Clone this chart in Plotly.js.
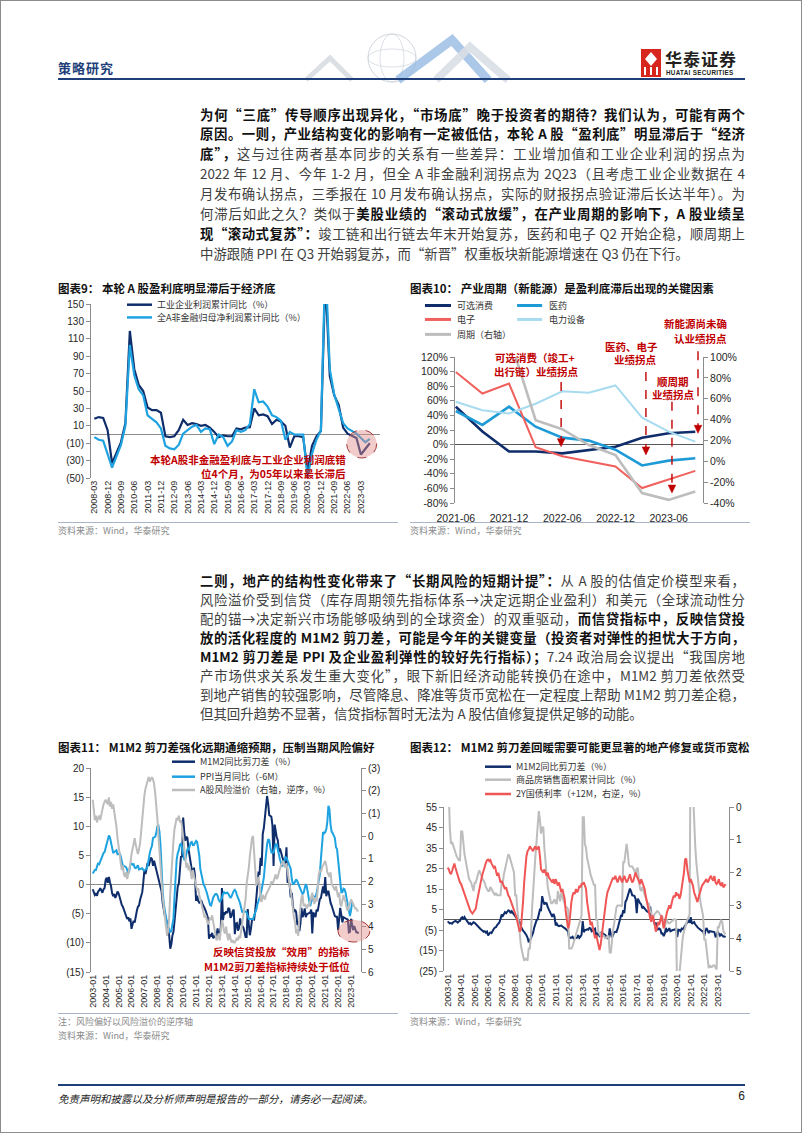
<!DOCTYPE html>
<html lang="zh-CN"><head><meta charset="utf-8">
<script src="https://cdn.plot.ly/plotly-3.0.1.min.js"></script>
<style>
body{margin:0;background:#fff;}
#page{position:relative;width:802px;height:1133px;overflow:hidden;font-family:"Noto Sans CJK SC","Liberation Sans",sans-serif;background:#fff;}
#frame{position:absolute;left:0;top:0;width:800px;height:1131px;border:1px solid #8c8c8c;}
.ln{position:absolute;left:200px;width:545px;height:20px;line-height:20px;font-size:13.4px;text-align:justify;text-align-last:justify;color:#404040;}
.ln b{color:#111;font-weight:700;}
.ln.last{text-align-last:left;}
.ttl{position:absolute;font-size:11.5px;font-weight:700;color:#111;white-space:nowrap;line-height:14px;}
.src{position:absolute;font-size:9px;color:#8a8a8a;white-space:nowrap;line-height:12px;}
.sep{position:absolute;height:1px;background:#a9b5c6;}
.chart{position:absolute;}
</style></head>
<body><div id="page">
<div id="frame"></div>

<!-- header -->
<div style="position:absolute;left:58px;top:58px;font-size:13px;font-weight:700;color:#1f3f7a;letter-spacing:1px;">策略研究</div>
<svg style="position:absolute;left:0;top:0" width="802" height="90">
  <polyline points="306,80 330,58 352,80" fill="none" stroke="#dcdfe4" stroke-width="5"/>
  <circle cx="392" cy="58" r="24" fill="none" stroke="#c3c9d3" stroke-width="0.8"/>
  <ellipse cx="392" cy="58" rx="12" ry="24" fill="none" stroke="#ccd2db" stroke-width="0.7"/>
  <ellipse cx="392" cy="58" rx="24" ry="9" fill="none" stroke="#ccd2db" stroke-width="0.7"/>
  <polyline points="398,80 452,40 488,80" fill="none" stroke="#8fb6e0" stroke-width="9" opacity="0.75"/>
  <polyline points="436,80 470,47 508,80" fill="none" stroke="#d9dee6" stroke-width="8" opacity="0.9"/>
  <rect x="641" y="49" width="20" height="28" fill="#d7261e"/>
  <polygon points="651,52 657,59 651,66 645,59" fill="#fff"/>
  <rect x="644" y="67" width="2" height="8" fill="#fff"/>
  <rect x="650" y="67" width="2" height="8" fill="#fff"/>
  <rect x="656" y="67" width="2" height="8" fill="#fff"/>
</svg>
<div style="position:absolute;left:665px;top:49px;font-size:17px;font-weight:700;color:#231f20;letter-spacing:1px;line-height:20px;">华泰证券</div>
<div style="position:absolute;left:666px;top:69px;font-size:6.3px;color:#231f20;letter-spacing:0.3px;font-family:'Liberation Sans';font-weight:700;">HUATAI SECURITIES</div>
<div style="position:absolute;left:58px;top:78px;width:687px;height:2px;background:#1f3f7a;"></div>

<!-- paragraph 1 -->
<div class="ln" style="top:103.5px"><b>为何“三底”传导顺序出现异化，“市场底”晚于投资者的期待？我们认为，可能有两个</b></div>
<div class="ln" style="top:123.4px"><b>原因。一则，产业结构变化的影响有一定被低估，本轮 A 股“盈利底”明显滞后于“经济</b></div>
<div class="ln" style="top:143.3px"><b>底”，</b>这与过往两者基本同步的关系有一些差异：工业增加值和工业企业利润的拐点为</div>
<div class="ln" style="top:163.2px">2022 年 12 月、今年 1-2 月，但全 A 非金融利润拐点为 2Q23（且考虑工业企业数据在 4</div>
<div class="ln" style="top:183.1px">月发布确认拐点，三季报在 10 月发布确认拐点，实际的财报拐点验证滞后长达半年）。为</div>
<div class="ln" style="top:203px">何滞后如此之久？类似于<b>美股业绩的“滚动式放缓”，在产业周期的影响下，A 股业绩呈</b></div>
<div class="ln" style="top:222.9px"><b>现“滚动式复苏”：</b>竣工链和出行链去年末开始复苏，医药和电子 Q2 开始企稳，顺周期上</div>
<div class="ln last" style="top:242.8px">中游跟随 PPI 在 Q3 开始弱复苏，而“新晋”权重板块新能源增速在 Q3 仍在下行。</div>

<!-- chart titles row 1 -->
<div class="ttl" style="left:58px;top:281px">图表9：&nbsp;本轮 A 股盈利底明显滞后于经济底</div>
<div class="ttl" style="left:410px;top:281px">图表10：&nbsp;产业周期（新能源）是盈利底滞后出现的关键因素</div>
<div id="c9" class="chart" style="left:55px;top:296px;width:345px;height:228px"></div>
<div id="c10" class="chart" style="left:405px;top:296px;width:345px;height:228px"></div>
<div class="sep" style="left:58px;top:522px;width:340px"></div>
<div class="sep" style="left:410px;top:522px;width:340px"></div>
<div class="src" style="left:58px;top:525px">资料来源：Wind，华泰研究</div>
<div class="src" style="left:410px;top:525px">资料来源：Wind，华泰研究</div>

<!-- paragraph 2 -->
<div class="ln" style="top:570px"><b>二则，地产的结构性变化带来了“长期风险的短期计提”：</b>从 A 股的估值定价模型来看，</div>
<div class="ln" style="top:589px">风险溢价受到信贷（库存周期领先指标体系→决定远期企业盈利）和美元（全球流动性分</div>
<div class="ln" style="top:608px">配的锚→决定新兴市场能够吸纳到的全球资金）的双重驱动，<b>而信贷指标中，反映信贷投</b></div>
<div class="ln" style="top:627px"><b>放的活化程度的 M1M2 剪刀差，可能是今年的关键变量（投资者对弹性的担忧大于方向，</b></div>
<div class="ln" style="top:646px"><b>M1M2 剪刀差是 PPI 及企业盈利弹性的较好先行指标）；</b>7.24 政治局会议提出“我国房地</div>
<div class="ln" style="top:665px">产市场供求关系发生重大变化”，眼下新旧经济动能转换仍在途中，M1M2 剪刀差依然受</div>
<div class="ln" style="top:684px">到地产销售的较强影响，尽管降息、降准等货币宽松在一定程度上帮助 M1M2 剪刀差企稳，</div>
<div class="ln last" style="top:703px">但其回升趋势不显著，信贷指标暂时无法为 A 股估值修复提供足够的动能。</div>

<!-- chart titles row 2 -->
<div class="ttl" style="left:58px;top:740px">图表11：&nbsp;M1M2 剪刀差强化远期通缩预期，压制当期风险偏好</div>
<div class="ttl" style="left:410px;top:740px">图表12：&nbsp;M1M2 剪刀差回暖需要可能更显著的地产修复或货币宽松</div>
<div id="c11" class="chart" style="left:55px;top:756px;width:345px;height:256px"></div>
<div id="c12" class="chart" style="left:405px;top:756px;width:345px;height:256px"></div>
<div class="sep" style="left:58px;top:1013px;width:340px"></div>
<div class="sep" style="left:410px;top:1013px;width:340px"></div>
<div class="src" style="left:58px;top:1016px">注：风险偏好以风险溢价的逆序轴</div>
<div class="src" style="left:58px;top:1030px">资料来源：Wind，华泰研究</div>
<div class="src" style="left:410px;top:1016px">资料来源：Wind，华泰研究</div>

<!-- footer -->
<div style="position:absolute;left:58px;top:1084px;width:687px;height:2px;background:#1f3f7a;"></div>
<div style="position:absolute;left:58px;top:1091px;font-size:10.5px;font-style:italic;color:#222;">免责声明和披露以及分析师声明是报告的一部分，请务必一起阅读。</div>
<div style="position:absolute;left:735px;top:1089px;width:10px;text-align:right;font-size:12px;color:#222;font-family:'Liberation Sans';">6</div>
</div>

<script>
// ---------------- DATA ----------------
// Chart 9 (quarterly, cumulative yoy %)
const quarters9 = ['2008-03','2008-06','2008-09','2008-12','2009-03','2009-06','2009-09','2009-12','2010-03','2010-06','2010-09','2010-12','2011-03','2011-06','2011-09','2011-12','2012-03','2012-06','2012-09','2012-12','2013-03','2013-06','2013-09','2013-12','2014-03','2014-06','2014-09','2014-12','2015-03','2015-06','2015-09','2015-12','2016-03','2016-06','2016-09','2016-12','2017-03','2017-06','2017-09','2017-12','2018-03','2018-06','2018-09','2018-12','2019-03','2019-06','2019-09','2019-12','2020-03','2020-06','2020-09','2020-12','2021-03','2021-06','2021-09','2021-12','2022-03','2022-06','2022-09','2022-12','2023-03','2023-06','2023-09'];
const tickLabels9 = ['2008-03','2008-12','2009-09','2010-06','2011-03','2011-12','2012-09','2013-06','2014-03','2014-12','2015-09','2016-06','2017-03','2017-12','2018-09','2019-06','2020-03','2020-12','2021-09','2022-06','2023-03'];
const industrialProfit9 = [18,20,19,5, -33,-22,-9,13, 119,75,57,50, 31,28,28,25, -2,-3,-2,5, 17,11,13,12, 10,11,8,3, -3,-1,-2,-2, 7,6,8,8.5, 30,22,23,21, 12,17,15,10, -15,-2,-2,-3, -42,-13,-2,4, 180,67,45,34, 8,1,-2,-4, -23,-17,-10];
const aShareProfit9 = [-3,-6,-7,-23, -38,-25,-12,10, 103,68,52,45, 22,18,14,7, -13,-16,-17,-12, 1,5,9,11, 3,7,6,-11, 0,-3,-13,-8, 5,3,5,12, 52,37,38,32, 22,20,16,-6, 3,0,0,0, -50,-22,-6,5, 200,75,46,30, 13,7,4,1, -4,-9,-5];

// Chart 10 (quarterly yoy %)
const quarters10 = ['2021-06','2021-09','2021-12','2022-03','2022-06','2022-09','2022-12','2023-03','2023-06','2023-09'];
const tickLabels10 = ['2021-06','2021-12','2022-06','2022-12','2023-06'];
const consumer10 = [52,18,-9.5,-9.5,-12,-7,-3,9.5,15.5,17.7];
const pharma10 = [46,27,52,24.5,9.5,5.5,-7,-28.6,-22,-18.6];
const electronics10 = [99.5,70,83.6,-3.6,-16,-23,-30,-59.5,-48,-36];
const powerEquip10 = [58.6,47,42.7,56,73,71,81,37,17.7,4];
const cyclical10 = [null,null,120,39.4,30.8,15.6,6,-30.5,-37,-29];

// Chart 11/12 monthly series, starting 2003-01
const m1m2Gap = [
-0.8,-1.5,-1.8,-1.6,-1.9,-1.2,-1.0,-0.6,-0.9,-1.4,-0.8,-0.6,
0.8,1.2,0.3,1.3,0.4,-0.3,-1.5,-2.0,-1.6,-2.3,-1.8,-1.2,
-1.5,-2.2,-3.0,-3.5,-3.8,-4.4,-4.9,-5.3,-5.9,-5.6,-6.3,-5.8,
-7.6,-6.8,-6.2,-6.5,-5.2,-4.5,-3.8,-3.6,-2.6,-2.1,-1.3,0.4,
2.5,1.8,2.9,3.7,3.2,3.8,4.6,4.4,3.2,4.1,3.3,2.8,
1.8,1.2,0.5,-0.4,-1.2,-3.2,-4.6,-5.3,-5.9,-6.5,-7.6,-8.7,
-11.0,-10.2,-8.8,-8.1,-6.3,-3.7,-1.6,-0.3,0.2,2.6,4.9,4.7,
11.5,9.0,7.5,8.2,8.0,6.1,4.8,3.6,2.1,1.4,2.9,1.5,
-2.8,-1.9,-2.8,-3.1,-2.9,-2.8,-3.3,-3.9,-4.1,-4.5,-5.1,-5.7,
-9.3,-8.7,-8.8,-8.3,-9.2,-8.9,-9.0,-8.7,-7.5,-8.9,-8.3,-7.3,
-0.6,-6.1,-4.9,-5.0,-4.6,-4.9,-4.0,-4.2,-5.7,-5.4,-4.6,-4.3,
-8.5,-6.7,-6.6,-7.9,-7.4,-5.8,-6.8,-7.1,-7.4,-8.1,-9.0,-9.0,
-4.2,-6.9,-8.7,-7.6,-6.1,-5.9,-6.0,-4.5,-1.7,-0.4,2.0,1.9,
4.6,3.2,8.7,9.7,11.6,12.8,15.2,13.9,11.9,11.8,11.6,10.1,
3.2,10.3,8.7,8.1,7.6,5.6,6.2,5.3,4.8,4.2,3.9,3.6,
6.4,0.3,0.8,0.0,-2.2,-1.4,-3.6,-4.7,-4.3,-4.7,-6.7,-6.6,
-8.0,-6.6,-4.0,-5.6,-5.1,-4.1,-5.6,-5.1,-5.0,-4.9,-4.8,-4.3,
-8.4,-4.9,-5.0,-5.6,-4.3,-4.6,-3.8,-2.5,-2.3,-1.4,-0.3,-1.5,
1.3,-2.0,-1.3,-1.1,-2.2,-3.1,-3.6,-4.1,-4.6,-5.4,-5.5,-5.5,
-7.8,-5.5,-4.0,-5.2,-6.5,-5.6,-5.7,-5.9,-5.9,-6.0,-8.2,-8.1,
-5.9,-7.0,-7.8,-7.1,-7.8,-8.2,-8.2,-8.4];
const ppiLead6 = [
1.9,2.3,2.5,2.5,3.1,3.7,3.5,4.0,4.6,5.1,5.4,5.6,
6.4,7.1,7.9,8.4,8.1,7.1,5.8,5.4,5.6,5.8,5.9,5.2,
5.2,5.3,4.9,4.0,3.2,3.2,3.1,3.0,2.5,1.9,2.4,3.5,
3.6,3.4,3.5,2.9,2.8,3.1,3.3,2.6,2.7,2.8,2.8,2.5,
2.4,2.6,2.7,3.2,4.6,5.4,6.1,6.6,8.0,8.1,8.2,8.8,
10.0,10.1,9.1,6.6,2.0,-1.1,-3.3,-4.5,-6.0,-6.6,-7.2,-7.8,
-8.2,-7.9,-7.0,-5.8,-2.1,1.7,4.3,5.4,5.9,6.8,7.1,6.4,
4.8,4.3,4.3,5.0,6.1,5.9,6.6,7.2,7.3,6.8,6.8,7.1,
7.5,7.3,6.5,5.0,2.7,1.7,0.7,0.0,-0.3,-0.7,-1.4,-2.1,
-2.9,-3.5,-3.6,-2.8,-2.2,-1.9,-1.6,-1.6,-1.9,-2.6,-2.9,-2.7,
-2.3,-1.6,-1.3,-1.5,-1.4,-1.4,-1.6,-2.0,-2.3,-2.0,-1.4,-1.1,
-0.9,-1.2,-1.8,-2.2,-2.7,-3.3,-4.3,-4.8,-4.6,-4.6,-4.6,-4.8,
-5.4,-5.9,-5.9,-5.9,-5.9,-5.9,-5.3,-4.9,-4.3,-3.4,-2.8,-2.6,
-1.7,-0.8,0.1,1.2,3.3,5.5,6.9,7.8,7.6,6.4,5.5,5.5,
5.5,6.3,6.9,6.9,5.8,4.9,4.3,3.7,3.1,3.4,4.1,4.7,
4.6,4.1,3.6,3.3,2.7,0.9,0.1,0.1,0.4,0.9,0.6,0.0,
-0.3,-0.8,-1.2,-1.6,-1.4,-0.5,0.1,-0.4,-1.5,-3.1,-3.7,-3.0,
-2.4,-2.0,-2.1,-2.1,-1.5,-0.4,0.3,1.7,4.4,6.8,9.0,8.8,
9.0,9.5,10.7,13.5,12.9,10.3,9.1,8.8,8.3,8.0,6.4,6.1,
4.2,2.3,0.9,-1.3,-1.3,-0.7,-0.8,-1.4,-2.5,-3.6,-4.6,-5.4,
-4.4,-3.0];
const riskPremium = [
-1.6,-1.0,-0.7,-0.9,-0.6,-0.8,-0.9,-0.7,-1.0,-1.3,-1.4,-1.5,
-1.6,-1.5,-1.4,-1.7,-1.3,-1.5,-1.2,-1.4,-1.1,-0.8,-0.4,0.1,
0.4,0.8,1.2,1.5,1.3,1.7,1.8,1.6,1.9,1.7,1.4,1.2,
0.8,0.5,0.2,0.1,0.4,0.7,0.8,0.6,0.3,-0.2,-0.8,-1.3,
-1.8,-2.1,-2.3,-2.5,-2.6,-2.4,-2.55,-2.6,-2.5,-2.3,-1.9,-1.4,
-0.8,0.0,0.8,1.5,2.0,2.7,3.2,3.7,4.1,4.4,4.2,3.6,
2.5,1.6,0.8,0.2,-0.3,-0.6,-0.8,-0.7,-0.9,-0.6,-0.7,-0.4,
0.1,0.6,1.0,1.4,1.2,1.5,1.3,1.6,1.9,1.5,1.8,2.1,
2.2,2.4,2.3,2.6,2.8,2.9,3.1,3.3,3.6,3.5,3.7,3.9,
3.8,3.6,3.7,3.5,3.8,4.1,4.4,4.6,4.5,4.3,4.6,4.0,
3.7,3.9,4.2,4.3,4.0,4.4,4.6,4.3,4.5,4.7,4.6,4.7,
4.7,4.6,4.5,4.6,4.4,4.5,4.2,3.8,3.6,3.3,2.8,2.1,
1.8,1.4,0.9,0.3,0.1,0.0,0.8,1.8,2.2,2.0,1.8,2.1,
2.8,2.9,2.6,2.7,2.8,2.6,2.5,2.4,2.3,2.2,2.0,2.1,
2.0,1.8,1.7,1.9,1.8,1.6,1.4,1.3,1.2,1.1,1.3,1.4,
1.2,1.6,1.9,2.2,2.4,2.9,3.2,3.6,3.8,4.3,4.1,4.4,
3.6,3.0,2.7,2.6,3.1,3.0,3.1,3.2,3.0,3.1,2.9,2.6,
2.5,2.8,3.0,2.7,2.9,2.4,1.7,1.5,1.6,1.4,1.3,1.2,
1.1,1.3,1.6,1.7,1.8,1.6,2.1,2.2,2.3,2.4,2.2,2.4,
2.7,2.5,3.0,3.1,2.9,2.6,2.8,2.9,3.2,3.3,3.1,2.9,
2.8,2.9,3.0,3.1,3.2,3.2,3.3,3.3];
const housingSales = [
62,62,45,37,38,36,35,33,31,30,29,29,
43,43,36,32,29,26,23,20,19,18,16,14,
18,18,20,22,24,23,21,20,19,18,16,15,
14,14,16,15,14,13,12,13,12,12,12,12,
18,18,22,25,27,30,32,31,29,27,25,23,
12,12,5,-1,-8,-12,-15,-18,-20,-19,-19,-20,
-14,-14,-8,5,15,25,31,38,45,53,49,42,
45,45,35,28,22,16,13,10,8,8,9,10,
8,8,14,11,9,13,11,9,8,6,6,5,
-14,-14,-14,-13,-11,-10,-7,-5,-4,-2,0,2,
50,50,37,35,30,28,25,22,20,18,17,17,
0,0,-6,-7,-8,-6,-8,-8,-9,-9,-8,-8,
-16,-16,-9,-5,-2,4,6,7,7,7,7,6.5,
28,28,33,37,33,27,26,26,26,25,24,22.5,
25,25,19,15,14,16,14,12,10,9,8,7.7,
3.6,3.6,-0.1,1.3,2.9,3.3,4.2,4,2.9,2.2,1.4,1.3,
-3.6,-3.6,-0.9,-0.3,-1.6,-1.8,-1.3,-0.6,-0.1,0.1,0.2,-0.1,
-39.9,-39.9,-26.3,-19.3,-12.3,-8.4,-5.8,-3.3,-1.8,0,1.3,2.6,
104.9,104.9,63.8,48.1,36.3,27.7,21.5,15.9,11.3,7.5,4.8,1.9,
-9.6,-9.6,-13.8,-20.9,-23.6,-22.2,-23.1,-23,-22.2,-22.3,-23.3,-24.3,
-3.6,-3.6,-1.8,-0.4,-0.9,-5.3,-6.5,-7.1];
const cgb2yLead12 = [
1.85,1.9,2.0,2.05,1.95,1.8,1.72,1.85,2.0,2.1,2.2,2.3,
2.35,2.45,2.55,2.6,2.75,2.85,2.95,3.05,3.15,3.2,3.25,3.2,
3.15,3.1,2.9,2.7,2.55,2.35,2.2,2.05,1.9,1.8,1.7,1.62,
1.6,1.65,1.62,1.72,1.8,1.85,1.8,1.95,2.1,2.0,2.2,2.3,
2.25,2.35,2.4,2.5,2.45,2.6,2.7,2.75,2.85,2.9,3.0,3.1,
3.2,3.35,3.5,3.65,3.8,3.75,3.4,2.9,2.3,1.8,1.5,1.35,
1.3,1.2,1.25,1.3,1.35,1.25,1.2,1.3,1.25,1.2,1.5,1.9,
1.95,2.0,1.9,2.05,2.1,2.0,2.15,2.2,2.25,2.3,2.2,2.35,
2.2,2.3,2.4,2.3,2.5,2.6,2.5,2.7,2.8,3.2,3.5,3.7,
3.6,3.2,2.9,2.7,2.6,2.65,2.5,2.6,2.55,2.4,2.45,2.35,
2.35,2.3,2.4,2.5,2.9,3.2,3.4,3.6,3.5,3.7,3.9,4.0,
3.9,4.1,4.2,4.36,4.2,3.9,3.5,3.2,3.0,2.8,2.6,2.5,
2.4,2.3,2.2,2.15,2.2,2.1,2.2,2.3,2.2,2.1,2.2,2.3,
2.2,2.1,2.2,2.3,2.25,2.1,2.05,2.2,2.3,2.25,2.15,2.0,
2.1,2.2,2.3,2.35,2.2,2.3,2.4,2.5,2.7,2.9,3.1,3.3,
3.4,3.5,3.3,3.4,3.6,3.8,3.7,3.5,3.6,3.4,3.3,3.5,
3.7,3.5,3.3,3.2,3.1,3.0,3.1,2.9,2.8,2.7,2.75,2.6,
2.7,2.65,2.8,2.7,2.5,2.3,2.0,1.6,1.57,1.9,2.2,2.3,
2.2,2.3,2.4,2.6,2.7,2.8,2.9,2.75,2.6,2.5,2.4,2.35,
2.3,2.25,2.2,2.3,2.25,2.15,2.1,2.2,2.25,2.1,2.3,2.35,
2.3,2.2,2.35,2.4,2.3,2.45,2.4,2.35];

// ---------------- HELPERS ----------------
function monthDates(n){const a=[];for(let i=0;i<n;i++){const y=2003+Math.floor(i/12),m=i%12+1;a.push(y+'-'+String(m).padStart(2,'0')+'-01');}return a;}
const NAVY='#0f2d6b', SKY='#1ea3e0', GRAY='#bdbdbd', RED='#f05656', DARKRED='#c00000', AX='#8c8c8c';
const FONT='Liberation Sans, Arial, Noto Sans CJK SC, sans-serif';
const CJK='Noto Sans CJK SC, Liberation Sans, sans-serif';
const cfg={staticPlot:true,displayModeBar:false};
function margins(c){return {l:c.x0-c.left,r:c.left+c.w-c.x1,t:c.y0-c.top,b:c.top+c.h-c.y1,pad:0};}
function px(c,x){return (x-c.x0)/(c.x1-c.x0);}
function py(c,y){return (c.y1-y)/(c.y1-c.y0);}
function legItem(c,l0,l1,xt,y,color,text,sh,an,w){
  sh.push({type:'line',xref:'paper',yref:'paper',x0:px(c,l0),x1:px(c,l1),y0:py(c,y),y1:py(c,y),line:{color:color,width:w||2.5}});
  an.push({xref:'paper',yref:'paper',x:px(c,xt),y:py(c,y),xanchor:'left',yanchor:'middle',text:text,showarrow:false,font:{family:CJK,size:9,color:'#333'}});
}
function note(c,x,y,text,anchor,an,size){
  an.push({xref:'paper',yref:'paper',x:px(c,x),y:py(c,y),xanchor:anchor||'center',yanchor:'middle',text:'<b>'+text+'</b>',showarrow:false,font:{family:CJK,size:size||10.5,color:DARKRED}});
}
function dashArrow(c,x,ya,yb,sh){
  sh.push({type:'line',xref:'paper',yref:'paper',x0:px(c,x),x1:px(c,x),y0:py(c,ya),y1:py(c,yb-7),line:{color:DARKRED,width:1.4,dash:'dash'}});
  sh.push({type:'path',xref:'paper',yref:'paper',path:'M '+px(c,x-3.8)+','+py(c,yb-8)+' L '+px(c,x+3.8)+','+py(c,yb-8)+' L '+px(c,x)+','+py(c,yb)+' Z',fillcolor:DARKRED,line:{color:DARKRED,width:0.5}});
}
function ellipse(c,x0,x1,y0,y1,sh){
  sh.push({type:'circle',xref:'paper',yref:'paper',x0:px(c,x0),x1:px(c,x1),y0:py(c,y1),y1:py(c,y0),fillcolor:'rgba(226,140,140,0.45)',line:{color:'#a33a3a',width:1,dash:'dash'}});
}
function base(c){return {width:c.w,height:c.h,margin:margins(c),showlegend:false,paper_bgcolor:'rgba(0,0,0,0)',plot_bgcolor:'rgba(0,0,0,0)',font:{family:FONT,size:10,color:'#262626'}};}
function yAx(range,vals,texts,extra){return Object.assign({range:range,tickvals:vals,ticktext:texts,showgrid:false,zeroline:false,showline:true,linecolor:AX,linewidth:1,ticks:'outside',ticklen:4,tickcolor:AX,tickfont:{size:10}},extra||{});}
function paren(v){return v<0?'('+(-v)+')':String(v);}

// ---------------- CHART 9 ----------------
(function(){
  const c={left:55,top:296,w:345,h:228,x0:91,x1:380,y0:304.3,y1:478};
  const sh=[],an=[];
  legItem(c,127,152,155,305,NAVY,'工业企业利润累计同比（%）',sh,an,2.5);
  legItem(c,127,152,155,317.7,SKY,'全A非金融归母净利润累计同比（%）',sh,an,2.5);
  note(c,348,459.3,'本轮A股非金融盈利底与工业企业利润底错','right',an,10.5);
  note(c,348,474,'位4个月，为05年以来最长滞后','right',an,10.5);
  ellipse(c,346.7,376.7,430,458,sh);
  const yv=[-50,-30,-10,10,30,50,70,90,110,130,150];
  const L=base(c);
  L.xaxis={type:'category',range:[-0.74,64.3],tickvals:tickLabels9,ticktext:tickLabels9,tickangle:-90,tickfont:{size:9},showgrid:false,zeroline:false,showline:false,ticks:''};
  L.yaxis=yAx([-50,150],yv,yv.map(paren),{zeroline:true,zerolinecolor:AX,zerolinewidth:1});
  L.shapes=sh;L.annotations=an;
  Plotly.newPlot('c9',[
    {x:quarters9,y:industrialProfit9,type:'scatter',mode:'lines',line:{color:NAVY,width:2.2}},
    {x:quarters9,y:aShareProfit9,type:'scatter',mode:'lines',line:{color:SKY,width:2.2}}
  ],L,cfg);
})();

// ---------------- CHART 10 ----------------
(function(){
  const c={left:405,top:296,w:345,h:228,x0:455,x1:702.7,y0:356.7,y1:503.3};
  const sh=[],an=[];
  legItem(c,425,451,455,305,NAVY,'可选消费',sh,an,3);
  legItem(c,517,542,547,305,'#1e9bd7','医药',sh,an,3);
  legItem(c,425,451,455,319,'#f0605d','电子',sh,an,3);
  legItem(c,517,542,547,319,'#a8dbef','电力设备',sh,an,3);
  legItem(c,425,451,455,334,GRAY,'周期（右轴）',sh,an,3);
  function t(x,y,s){an.push({xref:'paper',yref:'paper',x:px(c,x),y:py(c,y),xanchor:'center',yanchor:'middle',text:'<b>'+s+'</b>',showarrow:false,font:{family:CJK,size:10.5,color:DARKRED}});}
  t(535,356.7,'可选消费（竣工+');
  t(536.7,371.7,'出行链）业绩拐点');
  t(631.7,345.7,'医药、电子');
  t(635,359,'业绩拐点');
  t(673,381,'顺周期');
  t(673,394.3,'业绩拐点');
  t(695,323.3,'新能源尚未确');
  t(700,337.7,'认业绩拐点');
  dashArrow(c,561,381.7,446.7,sh);
  dashArrow(c,645.7,371.7,455,sh);
  dashArrow(c,671.7,401.7,493.3,sh);
  dashArrow(c,697.7,351,433.3,sh);
  const lv=[-80,-60,-40,-20,0,20,40,60,80,100,120], rv=[-40,-20,0,20,40,60,80,100];
  const L=base(c);
  L.font.size=10.5;
  L.xaxis={type:'category',range:[-0.03,9.29],tickvals:tickLabels10,ticktext:tickLabels10,tickangle:0,tickfont:{size:10.5},showgrid:false,zeroline:false,showline:false,ticks:'outside',ticklen:5,tickcolor:'rgba(0,0,0,0)'};
  L.yaxis=yAx([-80,120],lv,lv.map(v=>v+'%'),{zeroline:true,zerolinecolor:'#595959',zerolinewidth:1.2,tickfont:{size:10.5}});
  L.yaxis2=yAx([-40,100],rv,rv.map(v=>v+'%'),{overlaying:'y',side:'right',tickfont:{size:10.5}});
  L.shapes=sh;L.annotations=an;
  Plotly.newPlot('c10',[
    {x:quarters10,y:consumer10,type:'scatter',mode:'lines',line:{color:NAVY,width:2.6}},
    {x:quarters10,y:pharma10,type:'scatter',mode:'lines',line:{color:'#1e9bd7',width:2.6}},
    {x:quarters10,y:electronics10,type:'scatter',mode:'lines',line:{color:'#f0605d',width:2}},
    {x:quarters10,y:powerEquip10,type:'scatter',mode:'lines',line:{color:'#a8dbef',width:2}},
    {x:quarters10,y:cyclical10,type:'scatter',mode:'lines',yaxis:'y2',line:{color:GRAY,width:2.6}}
  ],L,cfg);
})();

// ---------------- CHART 11 ----------------
(function(){
  const c={left:55,top:756,w:345,h:256,x0:91,x1:361,y0:768,y1:972};
  const sh=[],an=[];
  legItem(c,172,195,198,761.7,NAVY,'M1M2同比剪刀差（%）',sh,an,2.5);
  legItem(c,172,195,198,776.7,SKY,'PPI当月同比（-6M）',sh,an,2.5);
  legItem(c,172,195,198,790,GRAY,'A股风险溢价（右轴，逆序，%）',sh,an,2.5);
  ellipse(c,338,370,920,942,sh);
  note(c,352,951.7,'反映信贷投放“效用”的指标','right',an,10.5);
  note(c,352,966,'M1M2剪刀差指标持续处于低位','right',an,10.5);
  const lv=[-15,-10,-5,0,5,10,15,20], rv=[-3,-2,-1,0,1,2,3,4,5,6];
  const L=base(c);
  L.xaxis={type:'date',range:['2002-11-12','2023-10-10'],tickformat:'%Y-%m',dtick:'M12',tick0:'2003-01-01',tickangle:-90,tickfont:{size:9},showgrid:false,zeroline:false,showline:false,ticks:''};
  L.yaxis=yAx([-15,20],lv,lv.map(paren),{zeroline:true,zerolinecolor:AX,zerolinewidth:1});
  L.yaxis2=yAx([6,-3],rv,rv.map(paren),{overlaying:'y',side:'right'});
  L.shapes=sh;L.annotations=an;
  Plotly.newPlot('c11',[
    {x:monthDates(m1m2Gap.length),y:m1m2Gap,type:'scatter',mode:'lines',line:{color:NAVY,width:2}},
    {x:monthDates(ppiLead6.length),y:ppiLead6,type:'scatter',mode:'lines',line:{color:SKY,width:2}},
    {x:monthDates(riskPremium.length),y:riskPremium,type:'scatter',mode:'lines',yaxis:'y2',line:{color:GRAY,width:2}}
  ],L,cfg);
})();

// ---------------- CHART 12 ----------------
(function(){
  const c={left:405,top:756,w:345,h:256,x0:444,x1:729,y0:807,y1:971};
  const sh=[],an=[];
  legItem(c,485,511,514,766.7,NAVY,'M1M2同比剪刀差（%）',sh,an,2.5);
  legItem(c,485,511,514,779.7,GRAY,'商品房销售面积累计同比（%）',sh,an,2.5);
  legItem(c,485,511,514,794,RED,'2Y国债利率（+12M，右逆，%）',sh,an,2.5);
  const lv=[-25,-15,-5,5,15,25,35,45,55], rv=[0,1,2,3,4,5];
  const L=base(c);
  L.xaxis={type:'date',range:['2002-09-25','2023-11-01'],tickformat:'%Y-%m',dtick:'M12',tick0:'2003-01-01',tickangle:-90,tickfont:{size:9},showgrid:false,zeroline:false,showline:false,ticks:''};
  L.yaxis=yAx([-25,55],lv,lv.map(paren),{zeroline:true,zerolinecolor:'#595959',zerolinewidth:1});
  L.yaxis2=yAx([5,0],rv,rv.map(String),{overlaying:'y',side:'right'});
  L.shapes=sh;L.annotations=an;
  Plotly.newPlot('c12',[
    {x:monthDates(m1m2Gap.length),y:m1m2Gap,type:'scatter',mode:'lines',line:{color:NAVY,width:2}},
    {x:monthDates(housingSales.length),y:housingSales,type:'scatter',mode:'lines',line:{color:GRAY,width:2}},
    {x:monthDates(cgb2yLead12.length),y:cgb2yLead12,type:'scatter',mode:'lines',yaxis:'y2',line:{color:RED,width:2}}
  ],L,cfg);
})();
</script>
</body></html>
